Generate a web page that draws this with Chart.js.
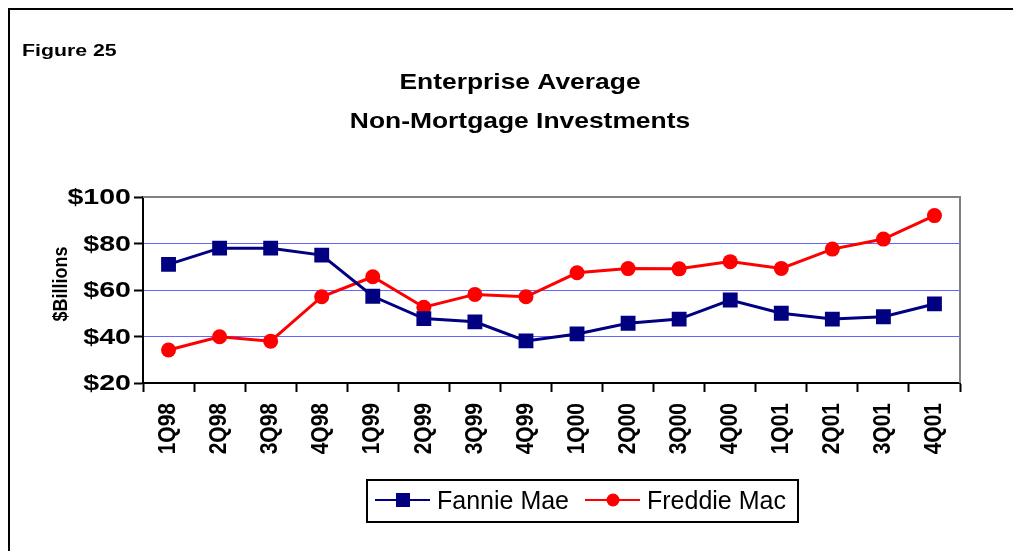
<!DOCTYPE html>
<html>
<head>
<meta charset="utf-8">
<script src="https://cdn.jsdelivr.net/npm/chart.js@4"></script>
<style>
  html, body { margin: 0; padding: 0; background: #fff; }
  canvas { display: block; }
</style>
</head>
<body>
<canvas id="chart" width="1013" height="551"></canvas>
<script>
const quarters = ['1Q98', '2Q98', '3Q98', '4Q98', '1Q99', '2Q99', '3Q99', '4Q99',
  '1Q00', '2Q00', '3Q00', '4Q00', '1Q01', '2Q01', '3Q01', '4Q01'];
const fannieMae = [71, 78, 78, 75, 57.3, 47.7, 46.3, 38.1, 41.1, 45.7, 47.5, 55.7, 50, 47.5, 48.5, 54];
const freddieMac = [34.2, 39.9, 38, 57.1, 65.7, 52.6, 58.1, 57.1, 67.4, 69.2, 69.1, 72.2, 69.3, 77.6, 81.9, 92];
const yTicks = [20, 40, 60, 80, 100];

const titleLines = ['Enterprise Average', 'Non-Mortgage Investments'];
const figureLabel = 'Figure 25';
const yTitle = '$Billions';

const FONT = 'Arial, "Liberation Sans", sans-serif';

// texte étiré horizontalement (le modèle a une police plus large)
function drawText(c, text, x, y, opts) {
  c.save();
  c.translate(x, y);
  c.scale(opts.sx || 1, 1);
  if (opts.rotate) c.rotate(opts.rotate);
  c.font = opts.font;
  c.textAlign = opts.align || 'left';
  c.textBaseline = opts.baseline || 'alphabetic';
  c.fillStyle = '#000';
  c.fillText(text, 0, 0);
  c.restore();
}

const decorations = {
  id: 'decorations',
  beforeDraw(chart) {
    const c = chart.ctx;
    c.save();
    c.fillStyle = '#fff';
    c.fillRect(0, 0, chart.width, chart.height);
    c.strokeStyle = '#000';
    c.lineWidth = 2;
    c.beginPath();
    c.moveTo(9, chart.height);
    c.lineTo(9, 9);
    c.lineTo(chart.width, 9);
    c.stroke();
    c.restore();

    drawText(c, figureLabel, 22, 56, { font: 'bold 16px ' + FONT, sx: 1.33 });
    drawText(c, titleLines[0], 520, 89, { font: 'bold 22px ' + FONT, sx: 1.2, align: 'center' });
    drawText(c, titleLines[1], 520, 128, { font: 'bold 22px ' + FONT, sx: 1.2, align: 'center' });
    drawText(c, yTitle, 61, 284, { font: 'bold 18px ' + FONT, sx: 1.15, align: 'center', baseline: 'middle', rotate: -Math.PI / 2 });
  },
  afterDraw(chart) {
    const c = chart.ctx;
    const a = chart.chartArea;
    const xs = chart.scales.x;
    const ys = chart.scales.y;

    // étiquettes des axes
    ys.ticks.forEach((t, i) => {
      drawText(c, '$' + t.value, 131, ys.getPixelForTick(i) + 1, { font: 'bold 22px ' + FONT, sx: 1.3, align: 'right', baseline: 'middle' });
    });
    xs.ticks.forEach((t, i) => {
      drawText(c, quarters[t.value], xs.getPixelForTick(i), 403, { font: 'bold 21px ' + FONT, sx: 1.15, align: 'right', baseline: 'middle', rotate: -Math.PI / 2 });
    });

    c.save();
    // bords haut et droit gris de la zone de tracé
    c.strokeStyle = '#808080';
    c.lineWidth = 2;
    c.beginPath();
    c.moveTo(a.left, a.top);
    c.lineTo(a.right, a.top);
    c.lineTo(a.right, a.bottom);
    c.stroke();

    // légende
    c.strokeStyle = '#000';
    c.lineWidth = 2;
    c.strokeRect(367, 480, 431, 42);
    const y = 500;
    chart.data.datasets.forEach((ds, i) => {
      const x0 = i === 0 ? 375 : 585;
      c.strokeStyle = ds.borderColor;
      c.lineWidth = 2;
      c.beginPath();
      c.moveTo(x0, y);
      c.lineTo(x0 + 55, y);
      c.stroke();
      c.fillStyle = ds.backgroundColor;
      if (ds.pointStyle === 'rect') {
        c.fillRect(x0 + 21, y - 7, 14, 14);
      } else {
        c.beginPath();
        c.arc(x0 + 28, y, 6.5, 0, Math.PI * 2);
        c.fill();
      }
      c.fillStyle = '#000';
      c.font = '25px ' + FONT;
      c.textAlign = 'left';
      c.textBaseline = 'alphabetic';
      c.fillText(ds.label, x0 + 62, y + 9);
    });
    c.restore();
  }
};

new Chart(document.getElementById('chart'), {
  type: 'line',
  data: {
    labels: quarters,
    datasets: [{
      label: 'Fannie Mae',
      data: fannieMae,
      borderColor: '#000080',
      backgroundColor: '#000080',
      borderWidth: 3,
      pointStyle: 'rect',
      pointRadius: 10.5,
      pointBorderWidth: 0,
      tension: 0
    }, {
      label: 'Freddie Mac',
      data: freddieMac,
      borderColor: '#ff0000',
      backgroundColor: '#ff0000',
      borderWidth: 3,
      pointStyle: 'circle',
      pointRadius: 7.5,
      pointBorderWidth: 0,
      tension: 0
    }]
  },
  options: {
    responsive: false,
    animation: false,
    devicePixelRatio: 1,
    layout: { padding: { top: 197, right: 53, left: 0, bottom: 0 } },
    plugins: {
      legend: { display: false },
      title: { display: false },
      tooltip: { enabled: false }
    },
    scales: {
      x: {
        offset: true,
        afterFit: (s) => { s.height = 168; },
        grid: {
          offset: true,
          drawOnChartArea: false,
          tickLength: 9,
          tickColor: '#000',
          tickWidth: 2
        },
        border: { color: '#000', width: 2 },
        ticks: { display: false, autoSkip: false }
      },
      y: {
        min: 20,
        max: 100,
        afterFit: (s) => { s.width = 143; },
        afterBuildTicks: (s) => { s.ticks = yTicks.map(v => ({ value: v })); },
        grid: {
          color: (ctx) => (ctx.tick && ctx.tick.value > 20 && ctx.tick.value < 100) ? '#6464ff' : 'rgba(0,0,0,0)',
          lineWidth: 1,
          tickLength: 9,
          tickColor: '#000',
          tickWidth: 2
        },
        border: { color: '#000', width: 2 },
        ticks: { display: false }
      }
    }
  },
  plugins: [decorations]
});
</script>
</body>
</html>
